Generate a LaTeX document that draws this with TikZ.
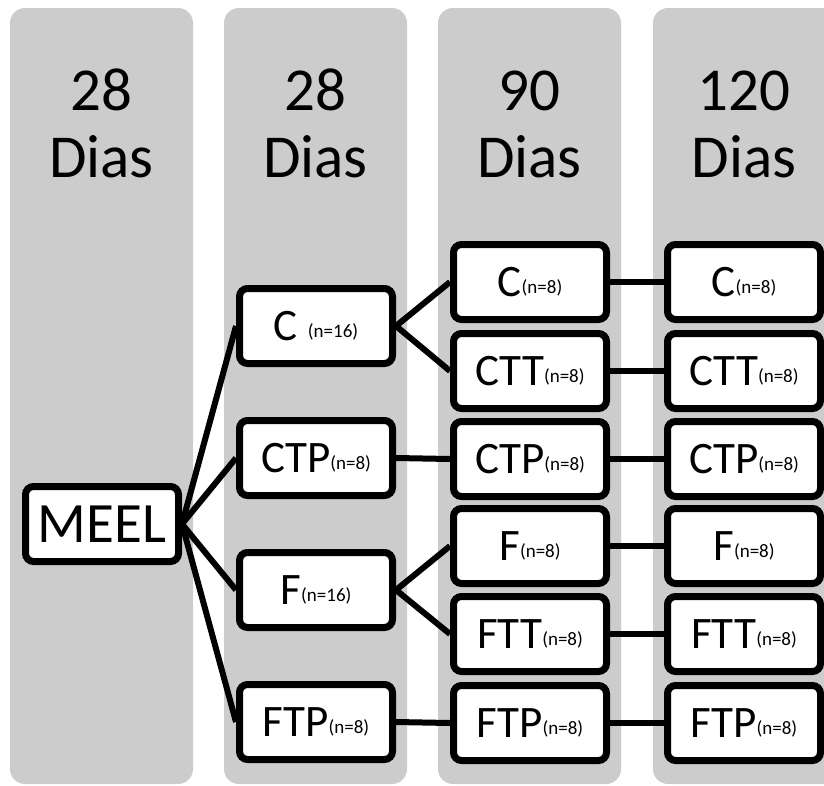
\documentclass[tikz,border=0pt]{standalone}
\usepackage{fontspec}
\setmainfont{Carlito}
\usetikzlibrary{shadows}
\definecolor{colgray}{RGB}{204,204,204}
\newcommand{\nsub}[1]{\raisebox{3pt}{\fontsize{19}{19}\selectfont #1}}
\begin{document}
\begin{tikzpicture}[x=1pt,y=-1pt,
  column/.style={fill=colgray,rounded corners=15pt},
  header/.style={anchor=base,inner sep=0pt,font=\fontsize{61}{67}\selectfont},
  box/.style={draw=black,fill=white,line width=7pt,rounded corners=8pt,
    minimum width=153pt,minimum height=75pt,inner sep=0pt,
    font=\fontsize{45}{45}\selectfont,
    drop shadow={shadow xshift=1pt,shadow yshift=-1.5pt,opacity=0.35,fill=black!70}},
  link/.style={line width=6pt}]
\useasboundingbox (0,0) rectangle (824,785);
\clip (0,0) rectangle (824,785);
% columns
\fill[column] (10,8) rectangle (193,784);
\fill[column] (224,8) rectangle (407,784);
\fill[column] (438,8) rectangle (621,784);
\fill[column] (653,8) rectangle (845,784);
% headers
\node[header] (h1a) at (101.5,110) {28};
\node[header] (h1b) at (101.5,177) {Dias};
\node[header] (h2a) at (315.5,110) {28};
\node[header] (h2b) at (315.5,177) {Dias};
\node[header] (h3a) at (529.5,110) {90};
\node[header] (h3b) at (529.5,177) {Dias};
\node[header] (h4a) at (744,110) {120};
\node[header] (h4b) at (744,177) {Dias};
% boxes
\node[box,font=\fontsize{57}{57}\selectfont] (meel) at (102,524) {MEEL};
\node[box] (c16) at (316,326) {C \nsub{(n=16)}};
\node[box] (ctp2) at (316,458) {CTP\nsub{(n=8)}};
\node[box] (f16) at (316,590) {F\nsub{(n=16)}};
\node[box] (ftp2) at (316,722) {FTP\nsub{(n=8)}};
\node[box] (c3) at (530,282) {C\nsub{(n=8)}};
\node[box] (ctt3) at (530,371) {CTT\nsub{(n=8)}};
\node[box] (ctp3) at (530,459) {CTP\nsub{(n=8)}};
\node[box] (f3) at (530,546) {F\nsub{(n=8)}};
\node[box] (ftt3) at (530,634) {FTT\nsub{(n=8)}};
\node[box] (ftp3) at (530,723) {FTP\nsub{(n=8)}};
\node[box] (c4) at (744,282) {C\nsub{(n=8)}};
\node[box] (ctt4) at (744,371) {CTT\nsub{(n=8)}};
\node[box] (ctp4) at (744,459) {CTP\nsub{(n=8)}};
\node[box] (f4) at (744,546) {F\nsub{(n=8)}};
\node[box] (ftt4) at (744,634) {FTT\nsub{(n=8)}};
\node[box] (ftp4) at (744,723) {FTP\nsub{(n=8)}};
% connectors
\draw[link] (meel.east) -- (c16.west);
\draw[link] (meel.east) -- (ctp2.west);
\draw[link] (meel.east) -- (f16.west);
\draw[link] (meel.east) -- (ftp2.west);
\draw[link] (c16.east) -- (c3.west);
\draw[link] (c16.east) -- (ctt3.west);
\draw[link] (ctp2.east) -- (ctp3.west);
\draw[link] (f16.east) -- (f3.west);
\draw[link] (f16.east) -- (ftt3.west);
\draw[link] (ftp2.east) -- (ftp3.west);
\draw[link] (c3.east) -- (c4.west);
\draw[link] (ctt3.east) -- (ctt4.west);
\draw[link] (ctp3.east) -- (ctp4.west);
\draw[link] (f3.east) -- (f4.west);
\draw[link] (ftt3.east) -- (ftt4.west);
\draw[link] (ftp3.east) -- (ftp4.west);
\end{tikzpicture}
\end{document}
